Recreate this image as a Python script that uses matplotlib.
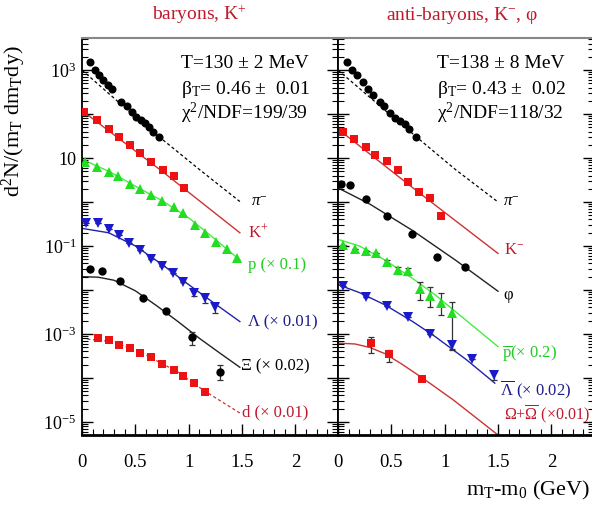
import numpy as np
import matplotlib
matplotlib.use('Agg')
import matplotlib.pyplot as plt
from matplotlib.ticker import MultipleLocator, LogLocator, NullFormatter, FixedLocator, FixedFormatter

plt.rcParams['font.family'] = ['Liberation Serif', 'DejaVu Serif']
plt.rcParams['mathtext.fontset'] = 'custom'
plt.rcParams['mathtext.rm'] = 'Liberation Serif'
plt.rcParams['mathtext.it'] = 'Liberation Serif:italic'
plt.rcParams['mathtext.bf'] = 'Liberation Serif:bold'

# --------------------------------------------------
# data (y values as log10)
# --------------------------------------------------

# left panel: baryons, K+
pim_l_x = [0.075, 0.12, 0.16, 0.20, 0.24, 0.28, 0.37, 0.42, 0.47, 0.51, 0.55, 0.59, 0.63, 0.67, 0.72]
pim_l_y = [3.19, 3.00, 2.89, 2.77, 2.66, 2.56, 2.28, 2.18, 2.05, 1.94, 1.86, 1.79, 1.70, 1.60, 1.47]
pim_l_fit_x = [0.0, 0.4, 0.75, 1.1, 1.48]
pim_l_fit_y = [3.00, 2.15, 1.43, 0.74, 0.01]

kp_x = [0.02, 0.14, 0.25, 0.35, 0.45, 0.54, 0.65, 0.76, 0.86, 0.96]
kp_y = [2.05, 1.86, 1.67, 1.48, 1.30, 1.11, 0.92, 0.73, 0.58, 0.31]
kp_fit_x = [0.0, 0.75, 1.48]
kp_fit_y = [2.08, 0.70, -0.70]

p_x = [0.03, 0.14, 0.25, 0.34, 0.45, 0.54, 0.65, 0.75, 0.86, 0.95, 1.06, 1.15, 1.26, 1.36, 1.45]
p_y = [0.92, 0.80, 0.69, 0.58, 0.42, 0.29, 0.16, 0.03, -0.11, -0.26, -0.53, -0.71, -0.90, -1.08, -1.28]
p_fit_x = [0.0, 0.25, 0.5, 0.75, 1.0, 1.25, 1.48]
p_fit_y = [0.97, 0.70, 0.36, 0.03, -0.36, -0.85, -1.32]

lam_x = [0.04, 0.15, 0.25, 0.35, 0.44, 0.54, 0.65, 0.75, 0.85, 0.95, 1.05, 1.15, 1.25]
lam_y = [-0.48, -0.48, -0.62, -0.75, -0.93, -1.09, -1.30, -1.45, -1.62, -1.81, -2.08, -2.19, -2.38]
lam_lo = [-0.48, -0.48, -0.62, -0.75, -0.93, -1.09, -1.30, -1.45, -1.62, -1.81, -2.14, -2.30, -2.52]
lam_hi = [-0.48, -0.48, -0.62, -0.75, -0.93, -1.09, -1.30, -1.45, -1.62, -1.81, -2.02, -2.10, -2.30]
lam_fit_x = [0.0, 0.25, 0.5, 0.75, 1.0, 1.25, 1.48]
lam_fit_y = [-0.60, -0.70, -1.00, -1.42, -1.88, -2.32, -2.72]

xi_x = [0.075, 0.19, 0.36, 0.57, 0.79, 1.03, 1.29]
xi_y = [-1.53, -1.58, -1.80, -2.19, -2.48, -3.08, -3.86]
xi_lo = [-1.53, -1.58, -1.80, -2.19, -2.48, -3.25, -4.05]
xi_hi = [-1.53, -1.58, -1.80, -2.19, -2.48, -2.95, -3.70]
xi_fit_x = [0.0, 0.15, 0.3, 0.5, 0.7, 0.9, 1.1, 1.3, 1.48]
xi_fit_y = [-1.70, -1.71, -1.78, -2.02, -2.36, -2.72, -3.10, -3.45, -3.76]

d_x = [0.15, 0.25, 0.35, 0.45, 0.54, 0.65, 0.75, 0.86, 0.95, 1.05, 1.15]
d_y = [-3.10, -3.14, -3.25, -3.33, -3.44, -3.53, -3.68, -3.82, -3.95, -4.11, -4.33]
d_fit_x = [0.05, 0.3, 0.6, 0.9, 1.15, 1.48]
d_fit_y = [-3.12, -3.18, -3.48, -3.87, -4.30, -4.80]

# right panel: anti-baryons, K-, phi
pim_r_x = [0.08, 0.13, 0.175, 0.23, 0.28, 0.33, 0.39, 0.43, 0.49, 0.53, 0.58, 0.63, 0.67, 0.73]
pim_r_y = [3.19, 3.00, 2.89, 2.73, 2.58, 2.43, 2.28, 2.18, 2.02, 1.90, 1.85, 1.77, 1.67, 1.48]
pim_r_fit_x = [0.0, 0.4, 0.75, 1.1, 1.5]
pim_r_fit_y = [3.00, 2.17, 1.45, 0.74, 0.00]

km_x = [0.05, 0.15, 0.26, 0.35, 0.46, 0.56, 0.66, 0.76, 0.86, 0.97]
km_y = [1.60, 1.43, 1.26, 1.07, 0.94, 0.73, 0.46, 0.22, 0.08, -0.31]
km_fit_x = [0.0, 0.75, 1.5]
km_fit_y = [1.66, 0.23, -1.17]

phi_x = [0.03, 0.11, 0.26, 0.46, 0.69, 0.93, 1.19]
phi_y = [0.42, 0.39, 0.06, -0.32, -0.73, -1.24, -1.47]
phi_fit_x = [0.0, 0.3, 0.7, 1.1, 1.5]
phi_fit_y = [0.32, -0.05, -0.65, -1.32, -2.03]

pbar_x = [0.05, 0.16, 0.26, 0.36, 0.46, 0.56, 0.66, 0.77, 0.86, 0.97, 1.07]
pbar_y = [-0.98, -1.08, -1.11, -1.17, -1.36, -1.55, -1.58, -1.98, -2.14, -2.30, -2.53]
pbar_lo = [-0.98, -1.08, -1.11, -1.17, -1.40, -1.64, -1.66, -2.23, -2.39, -2.57, -3.36]
pbar_hi = [-0.98, -1.08, -1.11, -1.17, -1.32, -1.47, -1.51, -1.81, -1.94, -2.08, -2.27]
pbar_fit_x = [0.0, 0.2, 0.44, 0.7, 0.91, 1.2, 1.5]
pbar_fit_y = [-0.85, -1.00, -1.32, -1.74, -2.11, -2.69, -3.29]

lbar_x = [0.05, 0.26, 0.46, 0.66, 0.86, 1.07, 1.26, 1.46]
lbar_y = [-1.91, -2.15, -2.36, -2.61, -3.00, -3.25, -3.58, -3.93]
lbar_lo = [-1.91, -2.15, -2.36, -2.61, -3.00, -3.34, -3.58, -4.05]
lbar_hi = [-1.91, -2.15, -2.36, -2.61, -3.00, -3.17, -3.58, -3.86]
lbar_fit_x = [0.0, 0.2, 0.44, 0.7, 0.91, 1.2, 1.47]
lbar_fit_y = [-1.88, -2.06, -2.34, -2.72, -3.06, -3.58, -4.12]

om_x = [0.31, 0.48, 0.79]
om_y = [-3.20, -3.45, -4.03]
om_lo = [-3.44, -3.63, -4.03]
om_hi = [-3.06, -3.36, -4.03]
om_fit_x = [0.0, 0.16, 0.3, 0.44, 0.6, 0.79, 1.08, 1.5]
om_fit_y = [-3.21, -3.23, -3.31, -3.45, -3.69, -4.00, -4.50, -5.30]

# --------------------------------------------------
# colours / helpers
# --------------------------------------------------
RED_M = '#ee1111'
RED_L = '#cc3333'
RED_T = '#c0182c'
GREEN_M = '#22dd22'
GREEN_L = '#44ee44'
GREEN_T = '#22cc22'
BLUE_M = '#1a1acc'
BLUE_L = '#2222aa'
BLUE_T = '#1c1c8c'


def lg(v):
    return 10 ** np.asarray(v, dtype=float)


def points(ax, x, y, color, marker, ms, lo=None, hi=None, ecolor='#333333'):
    yy = lg(y)
    if lo is not None:
        err = [yy - lg(lo), lg(hi) - yy]
        ax.errorbar(x, yy, yerr=err, fmt='none', ecolor=ecolor, elinewidth=0.9,
                    capsize=2.2, capthick=0.9, zorder=2)
    ax.plot(x, yy, linestyle='none', marker=marker, color=color, ms=ms,
            markeredgewidth=0, zorder=3)


def fit(ax, x, y, color, ls='-'):
    if ls == '--':
        ax.plot(x, lg(y), color=color, lw=0.9, dashes=(2.5, 2), zorder=1)
    else:
        ax.plot(x, lg(y), color=color, lw=1.0, zorder=1)


fig = plt.figure(figsize=(5.92, 5.12), dpi=100)
ax1 = fig.add_axes([82 / 592, 77 / 512, 256 / 592, 397 / 512])
ax2 = fig.add_axes([338 / 592, 77 / 512, 256 / 592, 397 / 512])

# left panel
fit(ax1, pim_l_fit_x, pim_l_fit_y, 'black', '--')
points(ax1, pim_l_x, pim_l_y, 'black', 'o', 5.8)
fit(ax1, kp_fit_x, kp_fit_y, RED_L)
points(ax1, kp_x, kp_y, RED_M, 's', 5.5)
fit(ax1, p_fit_x, p_fit_y, GREEN_L)
points(ax1, p_x, p_y, GREEN_M, '^', 6.5)
fit(ax1, lam_fit_x, lam_fit_y, BLUE_L)
points(ax1, lam_x, lam_y, BLUE_M, 'v', 6.5, lam_lo, lam_hi)
fit(ax1, xi_fit_x, xi_fit_y, '#222222')
points(ax1, xi_x, xi_y, 'black', 'o', 6, xi_lo, xi_hi)
fit(ax1, d_fit_x, d_fit_y, RED_L, '--')
points(ax1, d_x, d_y, RED_M, 's', 5.5)

ax1.text(1.58, lg(0.0), r'$\pi^{-}$', color='black', fontsize=12, va='center')
ax1.text(1.56, lg(-0.70), r'K$^{+}$', color=RED_T, fontsize=12, va='center')
ax1.text(1.56, lg(-1.43), 'p (× 0.1)', color=GREEN_T, fontsize=12, va='center')
ax1.text(1.56, lg(-2.75), 'Λ (× 0.01)', color=BLUE_T, fontsize=12, va='center')
ax1.text(1.49, lg(-3.75), 'Ξ (× 0.02)', color='black', fontsize=12, va='center')
ax1.text(1.50, lg(-4.78), 'd (× 0.01)', color=RED_T, fontsize=12, va='center')

ax1.text(0.93, lg(3.16), 'T=130 ± 2 MeV', fontsize=14, va='center')
ax1.text(0.93, lg(2.55), r'β$_{\rm T}$= 0.46 ±  0.01', fontsize=14, va='center')
ax1.text(0.93, lg(2.02), r'χ$^{2}$/NDF=199/39', fontsize=14, va='center')

# right panel
fit(ax2, pim_r_fit_x, pim_r_fit_y, 'black', '--')
points(ax2, pim_r_x, pim_r_y, 'black', 'o', 5.8)
fit(ax2, km_fit_x, km_fit_y, RED_L)
points(ax2, km_x, km_y, RED_M, 's', 5.5)
fit(ax2, phi_fit_x, phi_fit_y, '#222222')
points(ax2, phi_x, phi_y, 'black', 'o', 6)
fit(ax2, pbar_fit_x, pbar_fit_y, GREEN_L)
points(ax2, pbar_x, pbar_y, GREEN_M, '^', 6.5, pbar_lo, pbar_hi)
fit(ax2, lbar_fit_x, lbar_fit_y, BLUE_L)
points(ax2, lbar_x, lbar_y, BLUE_M, 'v', 6.5, lbar_lo, lbar_hi)
fit(ax2, om_fit_x, om_fit_y, RED_L)
points(ax2, om_x, om_y, RED_M, 's', 6, om_lo, om_hi)

ax2.text(1.55, lg(0.0), r'$\pi^{-}$', color='black', fontsize=12, va='center')
ax2.text(1.56, lg(-1.09), 'K$^{-}$', color=RED_T, fontsize=12, va='center')
ax2.text(1.55, lg(-2.11), 'φ', color='black', fontsize=12, va='center')
ax2.text(1.54, lg(-3.43), r'$\overline{\rm p}$(× 0.2)', color=GREEN_T, fontsize=12, va='center')
ax2.text(1.52, lg(-4.27), r'$\overline{\Lambda}$ (× 0.02)', color=BLUE_T, fontsize=12, va='center')
ax2.text(1.56, lg(-4.84), r'$\Omega$+$\overline{\Omega}$ (×0.01)', color=RED_T, fontsize=11.5, va='center')

ax2.text(0.93, lg(3.16), 'T=138 ± 8 MeV', fontsize=14, va='center')
ax2.text(0.93, lg(2.55), r'β$_{\rm T}$= 0.43 ±  0.02', fontsize=14, va='center')
ax2.text(0.93, lg(2.02), r'χ$^{2}$/NDF=118/32', fontsize=14, va='center')

# axes styling
dec = list(range(-5, 4))
dec_lab = ['10$^{-5}$', '', '10$^{-3}$', '', '10$^{-1}$', '', '10', '', '10$^{3}$']
for ax in (ax1, ax2):
    ax.set_yscale('log')
    ax.set_xlim(0, 2.4)
    ax.set_ylim(10 ** -5.3, 10 ** 3.73)
    ax.yaxis.set_major_locator(FixedLocator([10.0 ** k for k in dec]))
    ax.yaxis.set_minor_locator(LogLocator(base=10, subs=np.arange(2, 10), numticks=30))
    ax.yaxis.set_minor_formatter(NullFormatter())
    ax.xaxis.set_major_locator(MultipleLocator(0.5))
    ax.xaxis.set_minor_locator(MultipleLocator(0.1))
    ax.xaxis.set_major_formatter(plt.FuncFormatter(lambda v, p: '%g' % v))
    ax.tick_params(axis='both', which='major', direction='in', length=8, width=1,
                   labelsize=13.5, pad=14)
    ax.tick_params(axis='both', which='minor', direction='in', length=4, width=0.8)
    ax.tick_params(axis='y', which='both', left=True, right=True)
    ax.tick_params(axis='x', which='both', top=False, bottom=True)
    ax.spines['top'].set_color('#888888')
    ax.spines['top'].set_linewidth(1.5)
    ax.spines['bottom'].set_linewidth(2)
    ax.spines['left'].set_linewidth(1.3)
    ax.spines['right'].set_linewidth(1.3)

ax1.yaxis.set_major_formatter(FixedFormatter(dec_lab))
ax1.tick_params(axis='y', labelsize=13, pad=4)
ax2.tick_params(axis='y', labelleft=False)

ax1.set_ylabel(r'd$^{2}$N/(m$_{\rm T}$ dm$_{\rm T}$dy)', fontsize=16, labelpad=2)
ax1.yaxis.set_label_coords(-0.21, 0.79)

fig.text(199 / 592, 1 - 15 / 512, r'baryons, K$^{+}$', color=RED_T, fontsize=14,
         ha='center', va='center')
fig.text(462 / 592, 1 - 15 / 512, r'anti-baryons, K$^{-}$, φ', color=RED_T, fontsize=14,
         ha='center', va='center')
fig.text(590 / 592, 1 - 490 / 512, r'm$_{\rm T}$-m$_{0}$ (GeV)', fontsize=16,
         ha='right', va='center')

fig.savefig('out.png', dpi=100)
